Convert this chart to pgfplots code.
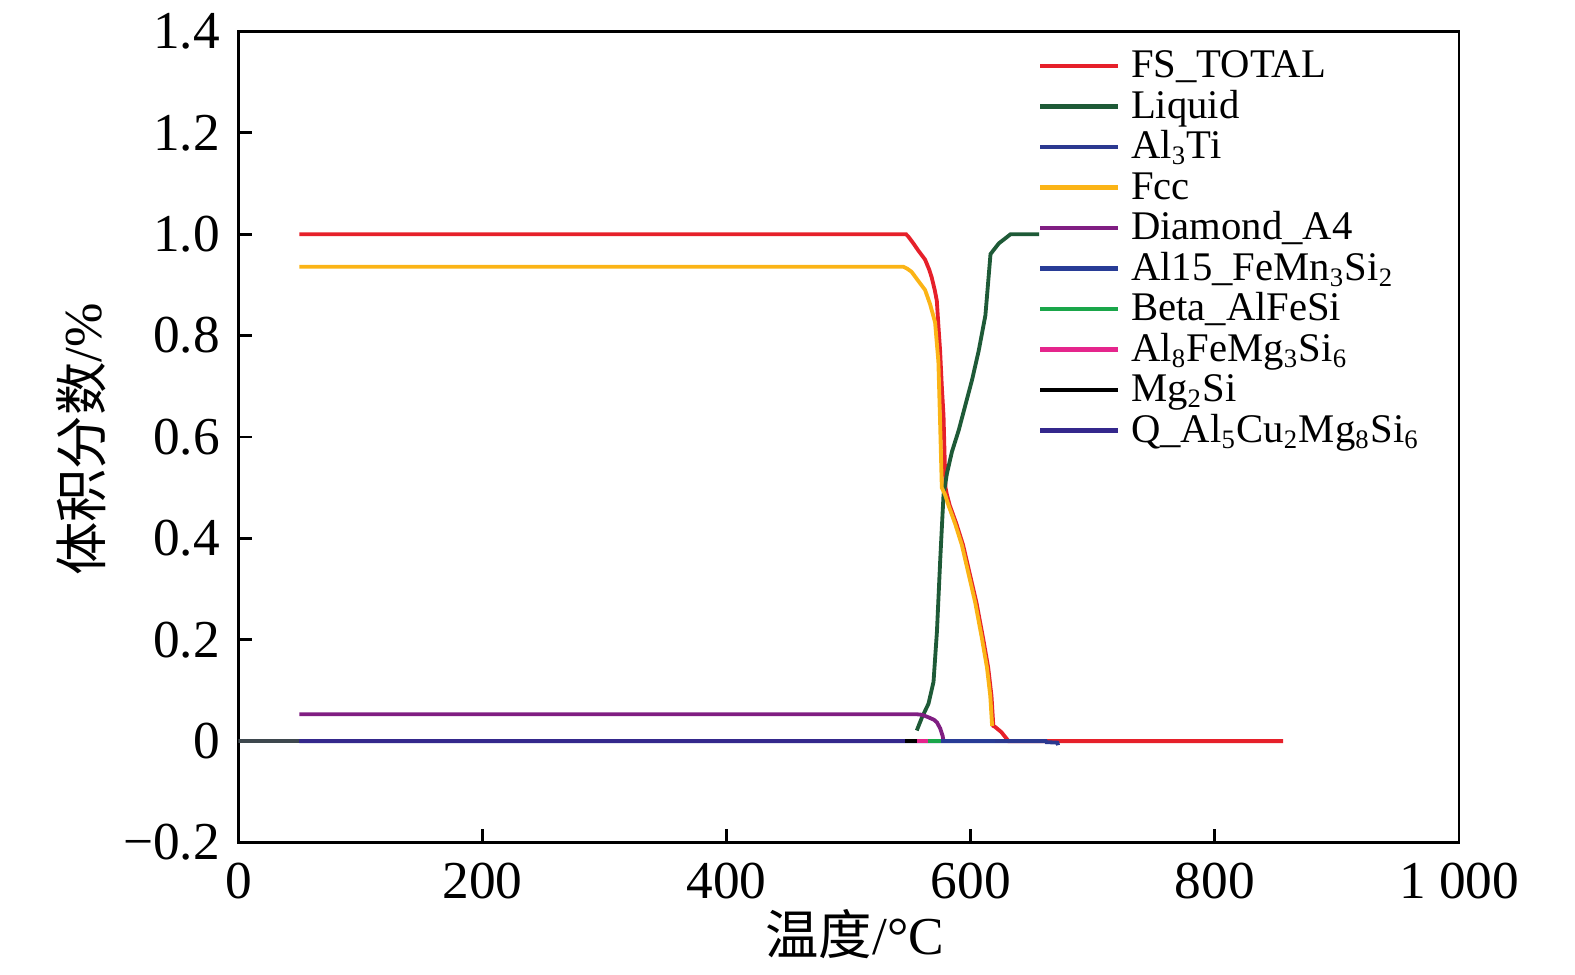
\documentclass[border=0pt]{standalone}
\usepackage{fontspec}
\setmainfont{Liberation Serif}
\newfontfamily\cjk{Noto Sans CJK SC}
\usepackage{pgfplots}
\pgfplotsset{compat=1.18}
\definecolor{cRed}{RGB}{230,32,42}
\definecolor{cLiq}{RGB}{30,90,55}
\definecolor{cBlue}{RGB}{43,57,144}
\definecolor{cFcc}{RGB}{251,180,22}
\definecolor{cDia}{RGB}{128,30,130}
\definecolor{cBlue2}{RGB}{40,60,150}
\definecolor{cBeta}{RGB}{26,166,74}
\definecolor{cPink}{RGB}{229,37,140}
\definecolor{cQ}{RGB}{52,40,140}
\definecolor{cGray}{RGB}{62,72,78}
\newcommand{\sub}[1]{\textsubscript{\fontsize{8}{8}\selectfont #1}}
\begin{document}
\begin{tikzpicture}
\begin{axis}[
  at={(71.5pt,39.45pt)}, anchor=south west,
  scale only axis, width=366.2pt, height=243.3pt,
  xmin=0, xmax=1000, ymin=-0.2, ymax=1.4,
  xtick={0,200,400,600,800,1000},
  xticklabels={0,200,400,600,800,1\ 000},
  ytick={-0.2,0,0.2,0.4,0.6,0.8,1.0,1.2,1.4},
  yticklabels={−0.2,0,0.2,0.4,0.6,0.8,1.0,1.2,1.4},
  tick pos=left, tick align=inside, major tick length=4pt,
  axis line style={line width=0.85pt},
  every tick/.style={line width=0.85pt, black},
  ticklabel style={font=\fontsize{16}{18}\selectfont},
  xticklabel style={yshift=-2.5pt},
  yticklabel style={xshift=-2pt},
  /pgf/number format/assume math mode=true,
  xlabel={{\cjk 温度}/°C},
  ylabel={{\cjk 体积分数}/\%},
  label style={font=\fontsize{16}{18}\selectfont},
  x label style={at={(axis description cs:0.505,-0.113)}, anchor=center},
  y label style={at={(axis description cs:-0.129,0.497)}, anchor=center},
  legend style={draw=none, fill=none, at={(axis description cs:0.6548,0.980)}, anchor=north west,
    inner sep=0pt, row sep=0pt, font=\fontsize{12.2}{12.2}\selectfont,
    nodes={inner xsep=3.3pt, inner ysep=0pt, text height=8.8pt, text depth=3.35pt}},
  legend cell align=left,
  legend image code/.code={\draw[#1, line width=1.25pt] (-0.8pt,0.8pt) -- (22.5pt,0.8pt);},
  every axis plot/.append style={line width=1.15pt},
]
\addplot[cGray, line width=1pt, forget plot] coordinates {(0,0)(50,0)};
\addplot[cRed] coordinates {(50,1.0)(547,1.0)(549,0.995)(553,0.982)(557,0.968)(562.6,0.950)(566,0.93)(568,0.915)(570.5,0.89)(572.2,0.869)(573.5,0.82)(574.9,0.77)(576.3,0.70)(577.7,0.642)(578.5,0.57)(579.3,0.50)(580.5,0.486)(582.8,0.465)(588.2,0.429)(593.7,0.387)(599.2,0.33)(604.7,0.273)(610.2,0.202)(614.3,0.145)(617,0.089)(618.5,0.03)(620,0.028)(625,0.018)(630,0.003)(631,0)(856,0)};
\addlegendentry{FS\_TOTAL}
\addplot[cLiq] coordinates {(555.8,0.021)(559.9,0.046)(565.4,0.074)(569.5,0.117)(572.3,0.216)(575,0.358)(577.7,0.486)(580.5,0.528)(584.6,0.571)(590.1,0.613)(595.6,0.663)(601.1,0.713)(606.5,0.77)(612,0.84)(616.2,0.961)(623,0.982)(632.6,1.0)(656,1.0)};
\addlegendentry{Liquid}
\addplot[cBlue] coordinates {(50,0)(661.5,0)(662,-0.002)(671,-0.003)(671.5,-0.008)};
\addlegendentry{Al\sub{3}Ti}
\addplot[cFcc] coordinates {(50,0.936)(544.7,0.936)(548,0.932)(551.5,0.926)(557,0.908)(562.6,0.89)(566.7,0.862)(570.8,0.826)(573.5,0.748)(574.9,0.628)(576.3,0.5)(579,0.486)(581.8,0.465)(587.2,0.429)(592.7,0.387)(598.2,0.33)(603.7,0.273)(609.2,0.202)(613.3,0.145)(616,0.089)(617.5,0.03)};
\addlegendentry{Fcc}
\addplot[cDia] coordinates {(50,0.053)(555.8,0.053)(560,0.052)(565.4,0.047)(570,0.042)(572.3,0.037)(575,0.025)(577,0.01)(577.7,0)};
\addlegendentry{Diamond\_A4}
\addplot[cBlue2] coordinates {(50,0)(620,0)};
\addlegendentry{Al15\_FeMn\sub{3}Si\sub{2}}
\addplot[cBeta] coordinates {(50,0)(576,0)};
\addlegendentry{Beta\_AlFeSi}
\addplot[cPink] coordinates {(50,0)(565,0)};
\addlegendentry{Al\sub{8}FeMg\sub{3}Si\sub{6}}
\addplot[black] coordinates {(50,0)(556,0)};
\addlegendentry{Mg\sub{2}Si}
\addplot[cQ] coordinates {(50,0)(546,0)};
\addlegendentry{Q\_Al\sub{5}Cu\sub{2}Mg\sub{8}Si\sub{6}}
\end{axis}
\pgfresetboundingbox
\path[use as bounding box] (0,0) rectangle (472.5pt,292.2pt);
\end{tikzpicture}
\end{document}
